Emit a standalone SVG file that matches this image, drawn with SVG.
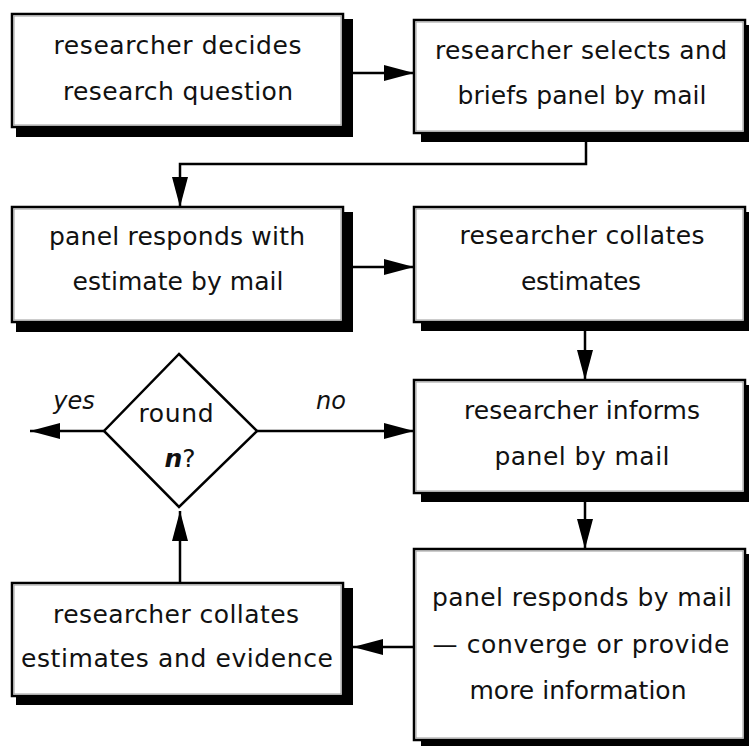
<svg xmlns="http://www.w3.org/2000/svg" width="749" height="746" viewBox="0 0 749 746">
<defs>
<style>
.shadow{fill:#000}
.box{fill:#fff;stroke:#000;stroke-width:2.5}
.inner{fill:none;stroke:#999;stroke-width:1}
.t{font-family:"DejaVu Sans","Liberation Sans",sans-serif;font-size:25px;fill:#111;text-anchor:middle}
.lbl{font-family:"DejaVu Sans","Liberation Sans",sans-serif;font-size:24px;font-style:italic;fill:#111;text-anchor:middle}
.conn{fill:none;stroke:#000;stroke-width:2.5}
.dia{fill:#fff;stroke:#000;stroke-width:2.5}
</style>
<marker id="ah" markerUnits="userSpaceOnUse" markerWidth="30" markerHeight="16" refX="30" refY="8" orient="auto">
<path d="M0,0 L30,8 L0,16 Z" fill="#000"/>
</marker>
</defs>
<rect width="749" height="746" fill="#fff"/>

<g id="connectors">
<line class="conn" x1="353" y1="73" x2="414" y2="73" marker-end="url(#ah)"/>
<path class="conn" d="M586,142 V164 H180 V207" marker-end="url(#ah)"/>
<line class="conn" x1="353" y1="267" x2="414" y2="267" marker-end="url(#ah)"/>
<line class="conn" x1="585" y1="331" x2="585" y2="380" marker-end="url(#ah)"/>
<line class="conn" x1="585" y1="502" x2="585" y2="549" marker-end="url(#ah)"/>
<line class="conn" x1="414" y1="647" x2="353" y2="647" marker-end="url(#ah)"/>
<line class="conn" x1="180" y1="583" x2="180" y2="511" marker-end="url(#ah)"/>
<line class="conn" x1="104" y1="431" x2="30" y2="431" marker-end="url(#ah)"/>
<line class="conn" x1="257" y1="431" x2="414" y2="431" marker-end="url(#ah)"/>
<text class="lbl" x="74" y="409">yes</text>
<text class="lbl" x="331" y="409">no</text>
</g>

<g id="n1">
<rect class="shadow" x="16" y="19" width="337" height="118"/>
<rect class="box" x="12" y="14" width="331" height="113"/>
<rect class="inner" x="14" y="16" width="327" height="109"/>
<text class="t" x="177.5" y="54" textLength="248" lengthAdjust="spacing">researcher decides</text>
<text class="t" x="178" y="100" textLength="230" lengthAdjust="spacing">research question</text>
</g>

<g id="n2">
<rect class="shadow" x="421" y="25" width="334" height="117"/>
<rect class="box" x="414" y="20" width="331" height="113"/>
<rect class="inner" x="416" y="22" width="327" height="109"/>
<text class="t" x="581" y="59" textLength="292" lengthAdjust="spacing">researcher selects and</text>
<text class="t" x="582" y="104" textLength="249" lengthAdjust="spacing">briefs panel by mail</text>
</g>

<g id="n3">
<rect class="shadow" x="16" y="212" width="337" height="120"/>
<rect class="box" x="12" y="207" width="331" height="115"/>
<rect class="inner" x="14" y="209" width="327" height="111"/>
<text class="t" x="177" y="245" textLength="256" lengthAdjust="spacing">panel responds with</text>
<text class="t" x="178" y="290" textLength="211" lengthAdjust="spacing">estimate by mail</text>
</g>

<g id="n4">
<rect class="shadow" x="421" y="212" width="334" height="119"/>
<rect class="box" x="414" y="207" width="331" height="115"/>
<rect class="inner" x="416" y="209" width="327" height="111"/>
<text class="t" x="582" y="244" textLength="245" lengthAdjust="spacing">researcher collates</text>
<text class="t" x="581" y="290" textLength="120" lengthAdjust="spacing">estimates</text>
</g>

<g id="n5">
<rect class="shadow" x="421" y="385" width="334" height="117"/>
<rect class="box" x="414" y="380" width="331" height="113"/>
<rect class="inner" x="416" y="382" width="327" height="109"/>
<text class="t" x="582" y="419" textLength="236" lengthAdjust="spacing">researcher informs</text>
<text class="t" x="582" y="465" textLength="175" lengthAdjust="spacing">panel by mail</text>
</g>

<g id="n6">
<rect class="shadow" x="421" y="554" width="334" height="196"/>
<rect class="box" x="414" y="549" width="331" height="191"/>
<rect class="inner" x="416" y="551" width="327" height="187"/>
<text class="t" x="582" y="606" textLength="300" lengthAdjust="spacing">panel responds by mail</text>
<text class="t" x="581" y="653" textLength="297" lengthAdjust="spacing">— converge or provide</text>
<text class="t" x="578" y="699" textLength="217" lengthAdjust="spacing">more information</text>
</g>

<g id="n7">
<rect class="shadow" x="16" y="588" width="337" height="117"/>
<rect class="box" x="12" y="583" width="331" height="113"/>
<rect class="inner" x="14" y="585" width="327" height="109"/>
<text class="t" x="176" y="623" textLength="246" lengthAdjust="spacing">researcher collates</text>
<text class="t" x="177" y="667" textLength="312" lengthAdjust="spacing">estimates and evidence</text>
</g>

<g id="decision">
<polygon class="dia" points="179,354 257,431 179,507 104,431"/>
<text class="t" x="176" y="422" textLength="75" lengthAdjust="spacing">round</text>
<text class="t" x="180" y="467"><tspan font-weight="bold" font-style="italic">n</tspan>?</text>
</g>
</svg>
